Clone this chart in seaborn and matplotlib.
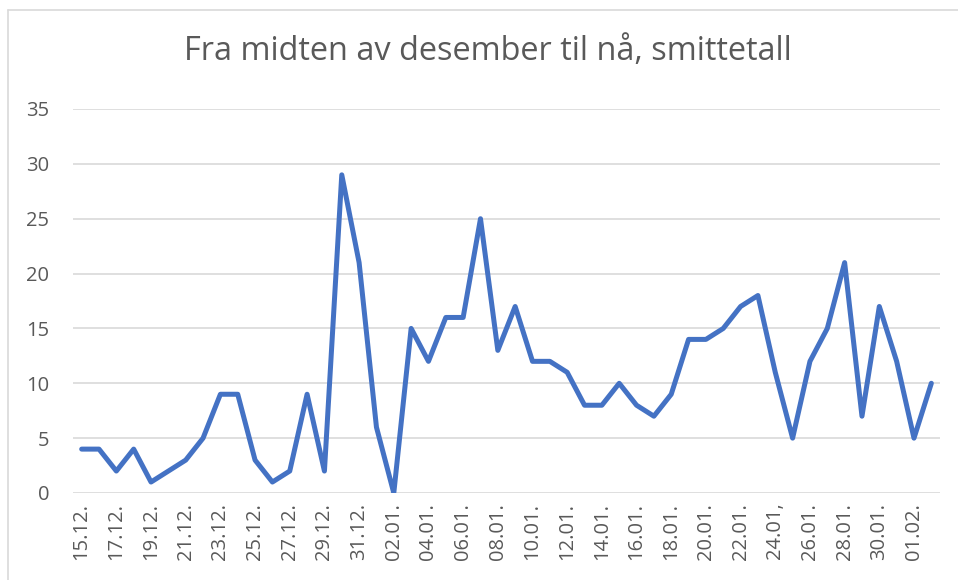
import pandas as pd
import seaborn as sns
import matplotlib.pyplot as plt
from matplotlib.lines import Line2D

# data (one value per day, 15.12 - 02.02)
dates = ["15.12.", "16.12.", "17.12.", "18.12.", "19.12.", "20.12.", "21.12.", "22.12.",
         "23.12.", "24.12.", "25.12.", "26.12.", "27.12.", "28.12.", "29.12.", "30.12.",
         "31.12.", "01.01.", "02.01.", "03.01.", "04.01.", "05.01.", "06.01.", "07.01.",
         "08.01.", "09.01.", "10.01.", "11.01.", "12.01.", "13.01.", "14.01.", "15.01.",
         "16.01.", "17.01.", "18.01.", "19.01.", "20.01.", "21.01.", "22.01.", "23.01.",
         "24.01,", "25.01.", "26.01.", "27.01.", "28.01.", "29.01.", "30.01.", "31.01.",
         "01.02.", "02.02."]
cases = [4, 4, 2, 4, 1, 2, 3, 5, 9, 9, 3, 1, 2, 9, 2, 29, 21, 6, 0, 15,
         12, 16, 16, 25, 13, 17, 12, 12, 11, 8, 8, 10, 8, 7, 9, 14, 14, 15, 17, 18,
         11, 5, 12, 15, 21, 7, 17, 12, 5, 10]
y_ticks = [0, 5, 10, 15, 20, 25, 30, 35]

df = pd.DataFrame({"pos": range(len(dates)), "dato": dates, "smittetall": cases})

sns.set_style("white")
plt.rcParams["font.family"] = ["Open Sans", "DejaVu Sans"]
grey = "#595959"

fig = plt.figure(figsize=(9.58, 5.80), dpi=100)
ax = fig.add_axes([73 / 958, 1 - 493 / 580, (940 - 73) / 958, (493 - 109) / 580])

sns.lineplot(data=df, x="pos", y="smittetall", ax=ax, color="#4472C4",
             linewidth=3.6, solid_joinstyle="round", solid_capstyle="round")

ax.set_xlim(-0.5, len(dates) - 0.5)
ax.set_ylim(0, 35)
ax.set_yticks(y_ticks)
ax.set_xticks(df["pos"][::2])
ax.set_xticklabels(df["dato"][::2], rotation=90)
ax.tick_params(axis="both", length=0, labelsize=14.5, labelcolor=grey)
ax.tick_params(axis="y", pad=17)
ax.tick_params(axis="x", pad=7)
ax.yaxis.grid(True, color="#d9d9d9", linewidth=1.2)
ax.set_xlabel("")
ax.set_ylabel("")
for s in ax.spines.values():
    s.set_visible(False)

fig.text(488 / 958, 1 - 52 / 580, "Fra midten av desember til nå, smittetall",
         ha="center", va="center", fontsize=23.4, color=grey)

# chart-area border (top and left visible in the reference)
fig.add_artist(Line2D([8 / 958, 1], [1 - 10 / 580, 1 - 10 / 580], color="#d9d9d9", lw=1.2))
fig.add_artist(Line2D([8 / 958, 8 / 958], [0, 1 - 10 / 580], color="#d9d9d9", lw=1.2))

plt.savefig("out.png")
